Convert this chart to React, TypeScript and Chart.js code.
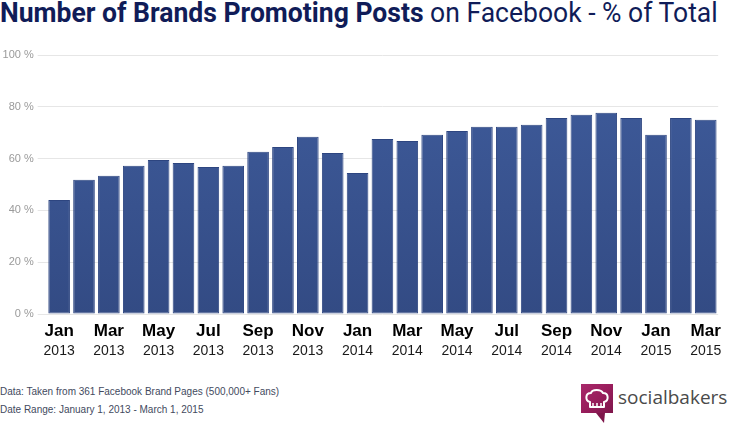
import React, { useEffect, useRef } from "react";
import { Chart, registerables, ChartOptions } from "chart.js";

Chart.register(...registerables);

// Jan 2013 .. Mar 2015, one bar per month
const months = [
  "Jan", "Feb", "Mar", "Apr", "May", "Jun", "Jul", "Aug", "Sep", "Oct", "Nov", "Dec",
  "Jan", "Feb", "Mar", "Apr", "May", "Jun", "Jul", "Aug", "Sep", "Oct", "Nov", "Dec",
  "Jan", "Feb", "Mar",
];
const years = [
  "2013", "2013", "2013", "2013", "2013", "2013", "2013", "2013", "2013", "2013", "2013", "2013",
  "2014", "2014", "2014", "2014", "2014", "2014", "2014", "2014", "2014", "2014", "2014", "2014",
  "2015", "2015", "2015",
];
// % of brands promoting posts
const promotingShare = [
  44.0, 51.8, 53.4, 57.2, 59.5, 58.3, 56.8, 57.2, 62.6, 64.5, 68.4, 62.2,
  54.4, 67.6, 66.8, 69.2, 70.7, 72.3, 72.3, 73.1, 75.7, 76.9, 77.7, 75.7,
  69.2, 75.7, 75.0,
];
const yTickStep = 20;
const yMax = 100;

const chartFont = "'Liberation Sans', Arial, sans-serif";

const App: React.FC = () => {
  const canvasRef = useRef<HTMLCanvasElement>(null);

  useEffect(() => {
    document.body.style.margin = "0";
    if (!canvasRef.current) return;
    const ctx = canvasRef.current.getContext("2d")!;

    const labels = months.map((m, i) => `${m} ${years[i]}`);

    const options: ChartOptions<"bar"> = {
      responsive: true,
      maintainAspectRatio: false,
      animation: false,
      layout: { padding: { top: 15, right: 8, bottom: 11, left: 0 } },
      scales: {
        x: {
          type: "category",
          position: "bottom",
          offset: true,
          afterFit: (scale) => {
            scale.height = 31;
          },
          grid: { display: false, drawTicks: false },
          border: { display: false },
          ticks: {
            autoSkip: false,
            maxRotation: 0,
            minRotation: 0,
            padding: 9,
            color: "#000",
            font: { family: chartFont, size: 17, weight: "bold", lineHeight: 1 },
            callback: (_v, i) => (i % 2 === 0 ? months[i] : ""),
          },
        },
        x2: {
          type: "category",
          position: "bottom",
          offset: true,
          afterFit: (scale) => {
            scale.height = 14;
          },
          grid: { display: false, drawTicks: false },
          border: { display: false },
          ticks: {
            autoSkip: false,
            maxRotation: 0,
            minRotation: 0,
            padding: 1,
            color: "#1a1a1a",
            font: { family: chartFont, size: 14, lineHeight: 0.75 },
            callback: (_v, i) => (i % 2 === 0 ? years[i] : ""),
          },
        },
        y: {
          min: 0,
          max: yMax,
          afterFit: (scale) => {
            scale.width = 46.7;
          },
          grid: { color: "#e6e6e6", lineWidth: 1, tickLength: 9 },
          border: { display: false },
          ticks: {
            stepSize: yTickStep,
            padding: 4,
            color: "#9a9a9a",
            font: { family: chartFont, size: 11 },
            callback: (v) => `${v} %`,
          },
        },
      },
      plugins: {
        legend: { display: false },
        tooltip: { enabled: false },
      },
    };

    const chart = new Chart(ctx, {
      type: "bar",
      data: {
        labels,
        datasets: [
          {
            label: "Brands promoting posts",
            data: promotingShare,
            xAxisID: "x",
            backgroundColor: (c) => {
              const area = c.chart.chartArea;
              if (!area) return "#3a5795";
              const g = c.chart.ctx.createLinearGradient(0, area.top, 0, area.bottom);
              g.addColorStop(0, "#3f5c9c");
              g.addColorStop(1, "#334b84");
              return g;
            },
            borderColor: "#2d4580",
            borderWidth: 1,
            borderSkipped: false,
            barPercentage: 0.87,
            categoryPercentage: 1,
          },
        ],
      },
      options,
    });

    return () => {
      chart.destroy();
    };
  }, []);

  return (
    <div style={{ position: "relative", width: 730, height: 444, background: "#fff", overflow: "hidden" }}>
      <div
        style={{
          position: "absolute",
          left: 0,
          top: -1,
          fontFamily: "Roboto, sans-serif",
          fontSize: 28,
          lineHeight: "28px",
          color: "#101c58",
          whiteSpace: "nowrap",
          transform: "scaleX(0.947)",
          transformOrigin: "left top",
        }}
      >
        <span style={{ fontWeight: 700 }}>Number of Brands Promoting Posts</span> on Facebook - % of Total
      </div>

      <div style={{ position: "absolute", left: 0, top: 40, width: 730, height: 330 }}>
        <canvas ref={canvasRef} />
      </div>

      <div
        style={{
          position: "absolute",
          left: 0,
          top: 383,
          fontFamily: chartFont,
          fontSize: 10,
          lineHeight: "18px",
          color: "#434a5e",
          whiteSpace: "nowrap",
        }}
      >
        <div>Data: Taken from 361 Facebook Brand Pages (500,000+ Fans)</div>
        <div>Date Range: January 1, 2013 - March 1, 2015</div>
      </div>

      <svg style={{ position: "absolute", left: 580, top: 383 }} width={34} height={41} viewBox="0 0 34 41">
        <defs>
          <linearGradient id="sbBox" x1="0" y1="0" x2="1" y2="1">
            <stop offset="0" stopColor="#a8286a" />
            <stop offset="0.5" stopColor="#991d5c" />
            <stop offset="1" stopColor="#7e164b" />
          </linearGradient>
        </defs>
        <rect x={1} y={1} width={32} height={29} fill="url(#sbBox)" />
        <polygon points="16,30 25,30 24,40" fill="#7e164b" />
        <path
          d="M10,19 C5,18 5,10 11,10 C12,6 21,6 23,10 C29,10 29,18 24,19 L24,24 L10,24 Z"
          fill="none"
          stroke="#fff"
          strokeWidth={2}
          strokeLinejoin="round"
        />
        <path d="M13,20 L13,23 M17,20 L17,23 M21,20 L21,23" stroke="#fff" strokeWidth={1.5} />
      </svg>
      <div
        style={{
          position: "absolute",
          left: 618,
          top: 385,
          fontFamily: "'Open Sans', sans-serif",
          fontSize: 19,
          lineHeight: "24px",
          color: "#4a4a4a",
          whiteSpace: "nowrap",
        }}
      >
        socialbakers
      </div>
    </div>
  );
};

export default App;
